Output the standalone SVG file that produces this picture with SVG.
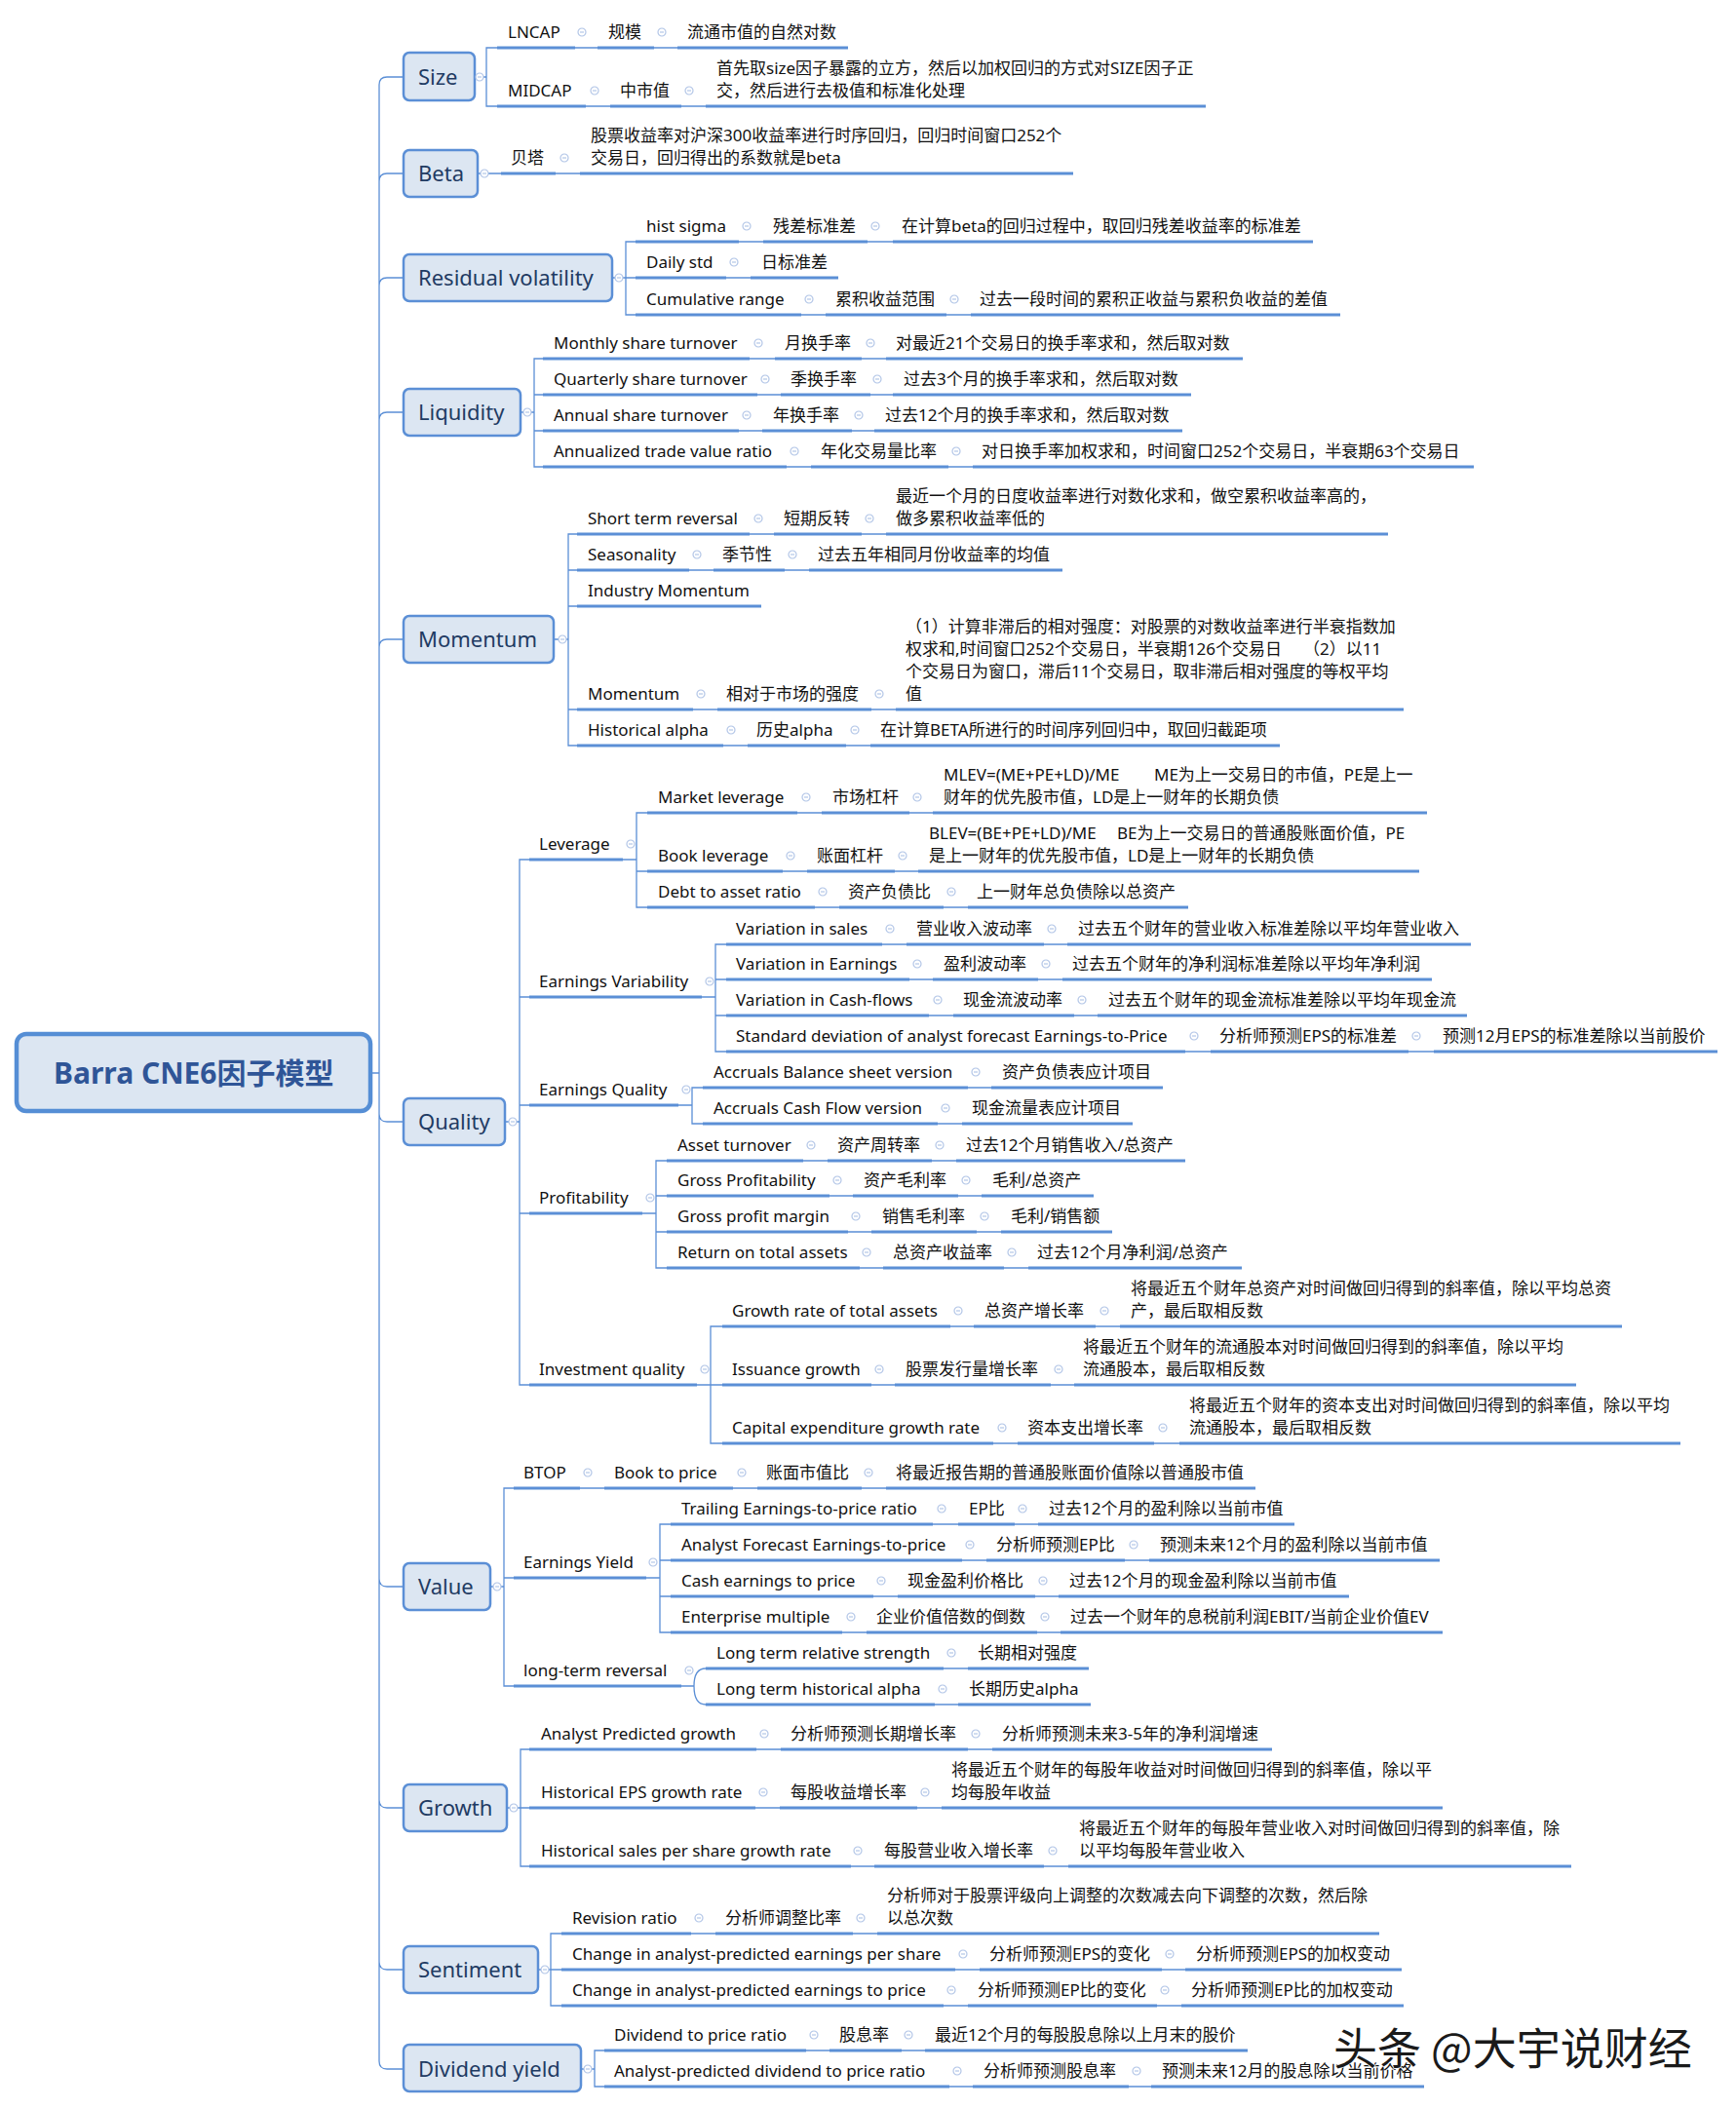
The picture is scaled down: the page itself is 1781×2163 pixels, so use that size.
<svg xmlns="http://www.w3.org/2000/svg" xmlns:xlink="http://www.w3.org/1999/xlink" width="1781" height="2163" viewBox="0 0 1781 2163">
<style>
.t{font-family:"Noto Sans","Noto Sans CJK SC",sans-serif;font-size:17px;fill:#111}
.k{font-family:"Noto Sans","Noto Sans CJK SC",sans-serif;font-size:22px;fill:#1f3b63}
.r{font-family:"Noto Sans","Noto Sans CJK SC",sans-serif;font-size:30px;font-weight:bold;fill:#2f5597}
.u{stroke:#5b8fd6;stroke-width:3;fill:none}
.c{stroke:#5b8fd6;stroke-width:1.3;fill:none}
.box{fill:#dce6f2;stroke:#5b8fd6;stroke-width:2.5}
.w{font-family:"Noto Sans CJK SC",sans-serif;font-size:45px;fill:#1a1a1a;stroke:#ffffff;stroke-width:1.5;paint-order:stroke}
</style>
<defs>
<g id="col"><circle r="4" fill="#ffffff" stroke="#b3c6e7" stroke-width="1.2"/><path d="M-2 0H2" stroke="#b3c6e7" stroke-width="1.2"/></g>
</defs>
<rect width="1781" height="2163" fill="#ffffff"/>
<g id="connectors">
<path class="c" d="M414 79H397Q389 79 389 87V2115Q389 2123 397 2123H414 M380 1101H389 M389 186Q389 178 397 178H414 M389 293Q389 285 397 285H414 M389 431Q389 423 397 423H414 M389 664Q389 656 397 656H414 M389 1143Q389 1151 397 1151H414 M389 1620Q389 1628 397 1628H414 M389 1847Q389 1855 397 1855H414 M389 2013Q389 2021 397 2021H414"/>
<path class="c" d="M487 79H499 M510 49H499V109H510 M590 49H613 M671 49H695 M601 109H626 M699 109H724"/>
<path class="c" d="M490 178H514 M570 178H595"/>
<path class="c" d="M628 285H642 M652 248H642V323H652 M642 285H652 M758 248H783 M890 248H916 M745 285H770 M822 323H847 M971 323H996"/>
<path class="c" d="M534 423H548 M557 368H548V479H557 M548 405H557 M548 442H557 M769 368H795 M884 368H909 M777 405H801 M893 405H916 M758 442H782 M874 442H897 M807 479H832 M973 479H998"/>
<path class="c" d="M568 656H583 M592 548H583V765H592 M583 585H592 M583 622H592 M583 728H592 M769 548H794 M884 548H909 M707 585H732 M805 585H830 M711 728H736 M894 728H919 M742 765H767 M868 765H893"/>
<path class="c" d="M518 1151H533 M543 882H533V1421H543 M533 1023H543 M533 1134H543 M533 1245H543"/>
<path class="c" d="M639 882H653 M664 834H653V931H664 M653 894H664 M818 834H843 M933 834H957 M803 894H828 M918 894H942 M836 931H861 M968 931H993"/>
<path class="c" d="M720 1023H734 M745 969H734V1079H745 M734 1005H745 M734 1042H745 M905 969H930 M1071 969H1095 M933 1005H957 M1065 1005H1090 M953 1042H978 M1102 1042H1126 M1216 1079H1242 M1445 1079H1471"/>
<path class="c" d="M696 1134H710 M721 1116H710V1153H721 M993 1116H1017 M962 1153H987"/>
<path class="c" d="M659 1245H673 M684 1191H673V1301H684 M673 1227H684 M673 1264H684 M824 1191H849 M956 1191H981 M851 1227H875 M983 1227H1007 M870 1264H894 M1002 1264H1027 M882 1301H906 M1030 1301H1055"/>
<path class="c" d="M715 1421H729 M741 1361H729V1481H741 M729 1421H741 M975 1361H999 M1124 1361H1149 M894 1421H918 M1078 1421H1102 M1019 1481H1044 M1184 1481H1210"/>
<path class="c" d="M503 1628H517 M527 1527H517V1730H527 M517 1619H527 M595 1527H620 M752 1527H777 M884 1527H909"/>
<path class="c" d="M663 1619H677 M688 1564H677V1675H688 M677 1601H688 M677 1638H688 M957 1564H983 M1041 1564H1065 M987 1601H1012 M1154 1601H1179 M896 1638H921 M1062 1638H1086 M864 1675H889 M1064 1675H1088"/>
<path class="c" d="M699 1730H712 M724 1712C715 1712 712 1720 712 1730C712 1740 715 1749 724 1749 M968 1712H993 M959 1749H983"/>
<path class="c" d="M520 1855H534 M543 1795H534V1915H543 M534 1855H543 M776 1795H801 M993 1795H1018 M775 1855H800 M941 1855H966 M873 1915H897 M1071 1915H1096"/>
<path class="c" d="M552 2021H565 M576 1984H565V2058H576 M565 2021H576 M709 1984H734 M875 1984H900 M980 2021H1005 M1192 2021H1216 M968 2058H993 M1187 2058H1212"/>
<path class="c" d="M596 2123H610 M620 2104H610V2141H620 M827 2104H851 M925 2104H949 M974 2141H998 M1158 2141H1181"/>
</g>
<g id="root"><rect x="17" y="1061" width="363" height="79" rx="10" fill="#dce6f2" stroke="#558ed5" stroke-width="4.5"/><text class="r" x="55" y="1112">Barra CNE6因子模型</text></g>
<g id="cat-size"><rect class="box" x="414" y="54" width="73" height="49" rx="6"/><text class="k" x="429" y="87">Size</text><use href="#col" x="492" y="79"/></g>
<g id="cat-beta"><rect class="box" x="414" y="154" width="76" height="48" rx="6"/><text class="k" x="429" y="186">Beta</text><use href="#col" x="497" y="178"/></g>
<g id="cat-resvol"><rect class="box" x="414" y="261" width="214" height="48" rx="6"/><text class="k" x="429" y="293">Residual volatility</text><use href="#col" x="635" y="285"/></g>
<g id="cat-liquidity"><rect class="box" x="414" y="399" width="120" height="48" rx="6"/><text class="k" x="429" y="431">Liquidity</text><use href="#col" x="541" y="423"/></g>
<g id="cat-momentum"><rect class="box" x="414" y="632" width="154" height="48" rx="6"/><text class="k" x="429" y="664">Momentum</text><use href="#col" x="577" y="656"/></g>
<g id="cat-quality"><rect class="box" x="414" y="1127" width="104" height="48" rx="6"/><text class="k" x="429" y="1159">Quality</text><use href="#col" x="526" y="1151"/></g>
<g id="cat-value"><rect class="box" x="414" y="1604" width="89" height="48" rx="6"/><text class="k" x="429" y="1636">Value</text><use href="#col" x="510" y="1628"/></g>
<g id="cat-growth"><rect class="box" x="414" y="1831" width="106" height="48" rx="6"/><text class="k" x="429" y="1863">Growth</text><use href="#col" x="527" y="1855"/></g>
<g id="cat-sentiment"><rect class="box" x="414" y="1997" width="138" height="48" rx="6"/><text class="k" x="429" y="2029">Sentiment</text><use href="#col" x="559" y="2021"/></g>
<g id="cat-dividend"><rect class="box" x="414" y="2098" width="182" height="48" rx="6"/><text class="k" x="429" y="2131">Dividend yield</text><use href="#col" x="603" y="2123"/></g>

<g id="n-lncap"><path class="u" d="M510 49H590"/><text class="t" x="521" y="39">LNCAP</text><use href="#col" x="597" y="33"/></g>
<g id="n-lncap-cn"><path class="u" d="M613 49H671"/><text class="t" x="624" y="39">规模</text><use href="#col" x="679" y="33"/></g>
<g id="n-lncap-d"><path class="u" d="M695 49H870"/><text class="t" x="705" y="39">流通市值的自然对数</text></g>
<g id="n-midcap"><path class="u" d="M510 109H601"/><text class="t" x="521" y="99">MIDCAP</text><use href="#col" x="610" y="93"/></g>
<g id="n-midcap-cn"><path class="u" d="M626 109H699"/><text class="t" x="636" y="99">中市值</text><use href="#col" x="707" y="93"/></g>
<g id="n-midcap-d"><path class="u" d="M724 109H1237"/><text class="t" x="735" y="76">首先取size因子暴露的立方，然后以加权回归的方式对SIZE因子正</text><text class="t" x="735" y="99">交，然后进行去极值和标准化处理</text></g>

<g id="n-beta-cn"><path class="u" d="M514 178H570"/><text class="t" x="524" y="168">贝塔</text><use href="#col" x="579" y="162"/></g>
<g id="n-beta-d"><path class="u" d="M595 178H1101"/><text class="t" x="606" y="145">股票收益率对沪深300收益率进行时序回归，回归时间窗口252个</text><text class="t" x="606" y="168">交易日，回归得出的系数就是beta</text></g>

<g id="n-histsigma"><path class="u" d="M652 248H758"/><text class="t" x="663" y="238">hist sigma</text><use href="#col" x="766" y="232"/></g>
<g id="n-histsigma-cn"><path class="u" d="M783 248H890"/><text class="t" x="793" y="238">残差标准差</text><use href="#col" x="898" y="232"/></g>
<g id="n-histsigma-d"><path class="u" d="M916 248H1347"/><text class="t" x="925" y="238">在计算beta的回归过程中，取回归残差收益率的标准差</text></g>
<g id="n-dailystd"><path class="u" d="M652 285H745"/><text class="t" x="663" y="275">Daily std</text><use href="#col" x="753" y="269"/></g>
<g id="n-dailystd-cn"><path class="u" d="M770 285H860"/><text class="t" x="781" y="275">日标准差</text></g>
<g id="n-cumrange"><path class="u" d="M652 323H822"/><text class="t" x="663" y="313">Cumulative range</text><use href="#col" x="830" y="307"/></g>
<g id="n-cumrange-cn"><path class="u" d="M847 323H971"/><text class="t" x="857" y="313">累积收益范围</text><use href="#col" x="979" y="307"/></g>
<g id="n-cumrange-d"><path class="u" d="M996 323H1375"/><text class="t" x="1005" y="313">过去一段时间的累积正收益与累积负收益的差值</text></g>

<g id="n-monthly"><path class="u" d="M557 368H769"/><text class="t" x="568" y="358">Monthly share turnover</text><use href="#col" x="778" y="352"/></g>
<g id="n-monthly-cn"><path class="u" d="M795 368H884"/><text class="t" x="805" y="358">月换手率</text><use href="#col" x="893" y="352"/></g>
<g id="n-monthly-d"><path class="u" d="M909 368H1275"/><text class="t" x="919" y="358">对最近21个交易日的换手率求和，然后取对数</text></g>
<g id="n-quarterly"><path class="u" d="M557 405H777"/><text class="t" x="568" y="395">Quarterly share turnover</text><use href="#col" x="785" y="389"/></g>
<g id="n-quarterly-cn"><path class="u" d="M801 405H893"/><text class="t" x="811" y="395">季换手率</text><use href="#col" x="900" y="389"/></g>
<g id="n-quarterly-d"><path class="u" d="M916 405H1222"/><text class="t" x="927" y="395">过去3个月的换手率求和，然后取对数</text></g>
<g id="n-annual"><path class="u" d="M557 442H758"/><text class="t" x="568" y="432">Annual share turnover</text><use href="#col" x="766" y="426"/></g>
<g id="n-annual-cn"><path class="u" d="M782 442H874"/><text class="t" x="793" y="432">年换手率</text><use href="#col" x="881" y="426"/></g>
<g id="n-annual-d"><path class="u" d="M897 442H1213"/><text class="t" x="908" y="432">过去12个月的换手率求和，然后取对数</text></g>
<g id="n-atvr"><path class="u" d="M557 479H807"/><text class="t" x="568" y="469">Annualized trade value ratio</text><use href="#col" x="815" y="463"/></g>
<g id="n-atvr-cn"><path class="u" d="M832 479H973"/><text class="t" x="842" y="469">年化交易量比率</text><use href="#col" x="981" y="463"/></g>
<g id="n-atvr-d"><path class="u" d="M998 479H1512"/><text class="t" x="1007" y="469">对日换手率加权求和，时间窗口252个交易日，半衰期63个交易日</text></g>

<g id="n-str"><path class="u" d="M592 548H769"/><text class="t" x="603" y="538">Short term reversal</text><use href="#col" x="778" y="532"/></g>
<g id="n-str-cn"><path class="u" d="M794 548H884"/><text class="t" x="804" y="538">短期反转</text><use href="#col" x="892" y="532"/></g>
<g id="n-str-d"><path class="u" d="M909 548H1424"/><text class="t" x="919" y="515">最近一个月的日度收益率进行对数化求和，做空累积收益率高的，</text><text class="t" x="919" y="538">做多累积收益率低的</text></g>
<g id="n-season"><path class="u" d="M592 585H707"/><text class="t" x="603" y="575">Seasonality</text><use href="#col" x="715" y="569"/></g>
<g id="n-season-cn"><path class="u" d="M732 585H805"/><text class="t" x="741" y="575">季节性</text><use href="#col" x="813" y="569"/></g>
<g id="n-season-d"><path class="u" d="M830 585H1090"/><text class="t" x="839" y="575">过去五年相同月份收益率的均值</text></g>
<g id="n-indmom"><path class="u" d="M592 622H781"/><text class="t" x="603" y="612">Industry Momentum</text></g>
<g id="n-mom"><path class="u" d="M592 728H711"/><text class="t" x="603" y="718">Momentum</text><use href="#col" x="719" y="712"/></g>
<g id="n-mom-cn"><path class="u" d="M736 728H894"/><text class="t" x="745" y="718">相对于市场的强度</text><use href="#col" x="902" y="712"/></g>
<g id="n-mom-d"><path class="u" d="M919 728H1440"/><text class="t" x="929" y="649">（1）计算非滞后的相对强度：对股票的对数收益率进行半衰指数加</text><text class="t" x="929" y="672">权求和,时间窗口252个交易日，半衰期126个交易日<tspan x="1337">（2）以11</tspan></text><text class="t" x="929" y="695">个交易日为窗口，滞后11个交易日，取非滞后相对强度的等权平均</text><text class="t" x="929" y="718">值</text></g>
<g id="n-histalpha"><path class="u" d="M592 765H742"/><text class="t" x="603" y="755">Historical alpha</text><use href="#col" x="750" y="749"/></g>
<g id="n-histalpha-cn"><path class="u" d="M767 765H868"/><text class="t" x="776" y="755">历史alpha</text><use href="#col" x="877" y="749"/></g>
<g id="n-histalpha-d"><path class="u" d="M893 765H1313"/><text class="t" x="903" y="755">在计算BETA所进行的时间序列回归中，取回归截距项</text></g>

<g id="n-leverage"><path class="u" d="M543 882H639"/><text class="t" x="553" y="872">Leverage</text><use href="#col" x="647" y="866"/></g>
<g id="n-mlev"><path class="u" d="M664 834H818"/><text class="t" x="675" y="824">Market leverage</text><use href="#col" x="827" y="818"/></g>
<g id="n-mlev-cn"><path class="u" d="M843 834H933"/><text class="t" x="854" y="824">市场杠杆</text><use href="#col" x="941" y="818"/></g>
<g id="n-mlev-d"><path class="u" d="M957 834H1464"/><text class="t" x="968" y="801">MLEV=(ME+PE+LD)/ME<tspan x="1184">ME为上一交易日的市值，PE是上一</tspan></text><text class="t" x="968" y="824">财年的优先股市值，LD是上一财年的长期负债</text></g>
<g id="n-blev"><path class="u" d="M664 894H803"/><text class="t" x="675" y="884">Book leverage</text><use href="#col" x="811" y="878"/></g>
<g id="n-blev-cn"><path class="u" d="M828 894H918"/><text class="t" x="838" y="884">账面杠杆</text><use href="#col" x="926" y="878"/></g>
<g id="n-blev-d"><path class="u" d="M942 894H1456"/><text class="t" x="953" y="861">BLEV=(BE+PE+LD)/ME<tspan x="1146">BE为上一交易日的普通股账面价值，PE</tspan></text><text class="t" x="953" y="884">是上一财年的优先股市值，LD是上一财年的长期负债</text></g>
<g id="n-dtoa"><path class="u" d="M664 931H836"/><text class="t" x="675" y="921">Debt to asset ratio</text><use href="#col" x="844" y="915"/></g>
<g id="n-dtoa-cn"><path class="u" d="M861 931H968"/><text class="t" x="870" y="921">资产负债比</text><use href="#col" x="976" y="915"/></g>
<g id="n-dtoa-d"><path class="u" d="M993 931H1219"/><text class="t" x="1002" y="921">上一财年总负债除以总资产</text></g>

<g id="n-ev"><path class="u" d="M543 1023H720"/><text class="t" x="553" y="1013">Earnings Variability</text><use href="#col" x="728" y="1007"/></g>
<g id="n-vsales"><path class="u" d="M745 969H905"/><text class="t" x="755" y="959">Variation in sales</text><use href="#col" x="913" y="953"/></g>
<g id="n-vsales-cn"><path class="u" d="M930 969H1071"/><text class="t" x="940" y="959">营业收入波动率</text><use href="#col" x="1079" y="953"/></g>
<g id="n-vsales-d"><path class="u" d="M1095 969H1509"/><text class="t" x="1106" y="959">过去五个财年的营业收入标准差除以平均年营业收入</text></g>
<g id="n-vearn"><path class="u" d="M745 1005H933"/><text class="t" x="755" y="995">Variation in Earnings</text><use href="#col" x="941" y="989"/></g>
<g id="n-vearn-cn"><path class="u" d="M957 1005H1065"/><text class="t" x="968" y="995">盈利波动率</text><use href="#col" x="1073" y="989"/></g>
<g id="n-vearn-d"><path class="u" d="M1090 1005H1469"/><text class="t" x="1100" y="995">过去五个财年的净利润标准差除以平均年净利润</text></g>
<g id="n-vcash"><path class="u" d="M745 1042H953"/><text class="t" x="755" y="1032">Variation in Cash-flows</text><use href="#col" x="962" y="1026"/></g>
<g id="n-vcash-cn"><path class="u" d="M978 1042H1102"/><text class="t" x="988" y="1032">现金流波动率</text><use href="#col" x="1110" y="1026"/></g>
<g id="n-vcash-d"><path class="u" d="M1126 1042H1505"/><text class="t" x="1137" y="1032">过去五个财年的现金流标准差除以平均年现金流</text></g>
<g id="n-sdaf"><path class="u" d="M745 1079H1216"/><text class="t" x="755" y="1069">Standard deviation of analyst forecast Earnings-to-Price</text><use href="#col" x="1225" y="1063"/></g>
<g id="n-sdaf-cn"><path class="u" d="M1242 1079H1445"/><text class="t" x="1251" y="1069">分析师预测EPS的标准差</text><use href="#col" x="1453" y="1063"/></g>
<g id="n-sdaf-d"><path class="u" d="M1471 1079H1762"/><text class="t" x="1480" y="1069">预测12月EPS的标准差除以当前股价</text></g>

<g id="n-eq"><path class="u" d="M543 1134H696"/><text class="t" x="553" y="1124">Earnings Quality</text><use href="#col" x="704" y="1118"/></g>
<g id="n-abs"><path class="u" d="M721 1116H993"/><text class="t" x="732" y="1106">Accruals Balance sheet version</text><use href="#col" x="1001" y="1100"/></g>
<g id="n-abs-cn"><path class="u" d="M1017 1116H1193"/><text class="t" x="1028" y="1106">资产负债表应计项目</text></g>
<g id="n-acf"><path class="u" d="M721 1153H962"/><text class="t" x="732" y="1143">Accruals Cash Flow version</text><use href="#col" x="970" y="1137"/></g>
<g id="n-acf-cn"><path class="u" d="M987 1153H1162"/><text class="t" x="997" y="1143">现金流量表应计项目</text></g>

<g id="n-prof"><path class="u" d="M543 1245H659"/><text class="t" x="553" y="1235">Profitability</text><use href="#col" x="667" y="1229"/></g>
<g id="n-at"><path class="u" d="M684 1191H824"/><text class="t" x="695" y="1181">Asset turnover</text><use href="#col" x="832" y="1175"/></g>
<g id="n-at-cn"><path class="u" d="M849 1191H956"/><text class="t" x="859" y="1181">资产周转率</text><use href="#col" x="964" y="1175"/></g>
<g id="n-at-d"><path class="u" d="M981 1191H1216"/><text class="t" x="991" y="1181">过去12个月销售收入/总资产</text></g>
<g id="n-gp"><path class="u" d="M684 1227H851"/><text class="t" x="695" y="1217">Gross Profitability</text><use href="#col" x="859" y="1211"/></g>
<g id="n-gp-cn"><path class="u" d="M875 1227H983"/><text class="t" x="886" y="1217">资产毛利率</text><use href="#col" x="991" y="1211"/></g>
<g id="n-gp-d"><path class="u" d="M1007 1227H1122"/><text class="t" x="1018" y="1217">毛利/总资产</text></g>
<g id="n-gpm"><path class="u" d="M684 1264H870"/><text class="t" x="695" y="1254">Gross profit margin</text><use href="#col" x="878" y="1248"/></g>
<g id="n-gpm-cn"><path class="u" d="M894 1264H1002"/><text class="t" x="905" y="1254">销售毛利率</text><use href="#col" x="1010" y="1248"/></g>
<g id="n-gpm-d"><path class="u" d="M1027 1264H1141"/><text class="t" x="1037" y="1254">毛利/销售额</text></g>
<g id="n-roa"><path class="u" d="M684 1301H882"/><text class="t" x="695" y="1291">Return on total assets</text><use href="#col" x="889" y="1285"/></g>
<g id="n-roa-cn"><path class="u" d="M906 1301H1030"/><text class="t" x="916" y="1291">总资产收益率</text><use href="#col" x="1038" y="1285"/></g>
<g id="n-roa-d"><path class="u" d="M1055 1301H1274"/><text class="t" x="1064" y="1291">过去12个月净利润/总资产</text></g>

<g id="n-iq"><path class="u" d="M543 1421H715"/><text class="t" x="553" y="1411">Investment quality</text><use href="#col" x="723" y="1405"/></g>
<g id="n-grta"><path class="u" d="M741 1361H975"/><text class="t" x="751" y="1351">Growth rate of total assets</text><use href="#col" x="983" y="1345"/></g>
<g id="n-grta-cn"><path class="u" d="M999 1361H1124"/><text class="t" x="1010" y="1351">总资产增长率</text><use href="#col" x="1133" y="1345"/></g>
<g id="n-grta-d"><path class="u" d="M1149 1361H1664"/><text class="t" x="1160" y="1328">将最近五个财年总资产对时间做回归得到的斜率值，除以平均总资</text><text class="t" x="1160" y="1351">产，最后取相反数</text></g>
<g id="n-ig"><path class="u" d="M741 1421H894"/><text class="t" x="751" y="1411">Issuance growth</text><use href="#col" x="902" y="1405"/></g>
<g id="n-ig-cn"><path class="u" d="M918 1421H1078"/><text class="t" x="929" y="1411">股票发行量增长率</text><use href="#col" x="1086" y="1405"/></g>
<g id="n-ig-d"><path class="u" d="M1102 1421H1617"/><text class="t" x="1111" y="1388">将最近五个财年的流通股本对时间做回归得到的斜率值，除以平均</text><text class="t" x="1111" y="1411">流通股本，最后取相反数</text></g>
<g id="n-capex"><path class="u" d="M741 1481H1019"/><text class="t" x="751" y="1471">Capital expenditure growth rate</text><use href="#col" x="1028" y="1465"/></g>
<g id="n-capex-cn"><path class="u" d="M1044 1481H1184"/><text class="t" x="1054" y="1471">资本支出增长率</text><use href="#col" x="1193" y="1465"/></g>
<g id="n-capex-d"><path class="u" d="M1210 1481H1724"/><text class="t" x="1220" y="1448">将最近五个财年的资本支出对时间做回归得到的斜率值，除以平均</text><text class="t" x="1220" y="1471">流通股本，最后取相反数</text></g>

<g id="n-btop"><path class="u" d="M527 1527H595"/><text class="t" x="537" y="1517">BTOP</text><use href="#col" x="603" y="1511"/></g>
<g id="n-btp"><path class="u" d="M620 1527H752"/><text class="t" x="630" y="1517">Book to price</text><use href="#col" x="761" y="1511"/></g>
<g id="n-btp-cn"><path class="u" d="M777 1527H884"/><text class="t" x="786" y="1517">账面市值比</text><use href="#col" x="891" y="1511"/></g>
<g id="n-btp-d"><path class="u" d="M909 1527H1288"/><text class="t" x="919" y="1517">将最近报告期的普通股账面价值除以普通股市值</text></g>
<g id="n-ey"><path class="u" d="M527 1619H663"/><text class="t" x="537" y="1609">Earnings Yield</text><use href="#col" x="670" y="1603"/></g>
<g id="n-tep"><path class="u" d="M688 1564H957"/><text class="t" x="699" y="1554">Trailing Earnings-to-price ratio</text><use href="#col" x="966" y="1548"/></g>
<g id="n-tep-cn"><path class="u" d="M983 1564H1041"/><text class="t" x="994" y="1554">EP比</text><use href="#col" x="1049" y="1548"/></g>
<g id="n-tep-d"><path class="u" d="M1065 1564H1328"/><text class="t" x="1076" y="1554">过去12个月的盈利除以当前市值</text></g>
<g id="n-afep"><path class="u" d="M688 1601H987"/><text class="t" x="699" y="1591">Analyst Forecast Earnings-to-price</text><use href="#col" x="995" y="1585"/></g>
<g id="n-afep-cn"><path class="u" d="M1012 1601H1154"/><text class="t" x="1022" y="1591">分析师预测EP比</text><use href="#col" x="1163" y="1585"/></g>
<g id="n-afep-d"><path class="u" d="M1179 1601H1477"/><text class="t" x="1190" y="1591">预测未来12个月的盈利除以当前市值</text></g>
<g id="n-cetp"><path class="u" d="M688 1638H896"/><text class="t" x="699" y="1628">Cash earnings to price</text><use href="#col" x="904" y="1622"/></g>
<g id="n-cetp-cn"><path class="u" d="M921 1638H1062"/><text class="t" x="931" y="1628">现金盈利价格比</text><use href="#col" x="1070" y="1622"/></g>
<g id="n-cetp-d"><path class="u" d="M1086 1638H1384"/><text class="t" x="1097" y="1628">过去12个月的现金盈利除以当前市值</text></g>
<g id="n-em"><path class="u" d="M688 1675H864"/><text class="t" x="699" y="1665">Enterprise multiple</text><use href="#col" x="873" y="1659"/></g>
<g id="n-em-cn"><path class="u" d="M889 1675H1064"/><text class="t" x="899" y="1665">企业价值倍数的倒数</text><use href="#col" x="1072" y="1659"/></g>
<g id="n-em-d"><path class="u" d="M1088 1675H1480"/><text class="t" x="1098" y="1665">过去一个财年的息税前利润EBIT/当前企业价值EV</text></g>
<g id="n-ltr"><path class="u" d="M527 1730H699"/><text class="t" x="537" y="1720">long-term reversal</text><use href="#col" x="707" y="1714"/></g>
<g id="n-ltrs"><path class="u" d="M724 1712H968"/><text class="t" x="735" y="1702">Long term relative strength</text><use href="#col" x="976" y="1696"/></g>
<g id="n-ltrs-cn"><path class="u" d="M993 1712H1117"/><text class="t" x="1003" y="1702">长期相对强度</text></g>
<g id="n-ltha"><path class="u" d="M724 1749H959"/><text class="t" x="735" y="1739">Long term historical alpha</text><use href="#col" x="967" y="1733"/></g>
<g id="n-ltha-cn"><path class="u" d="M983 1749H1119"/><text class="t" x="994" y="1739">长期历史alpha</text></g>

<g id="n-apg"><path class="u" d="M543 1795H776"/><text class="t" x="555" y="1785">Analyst Predicted growth</text><use href="#col" x="784" y="1779"/></g>
<g id="n-apg-cn"><path class="u" d="M801 1795H993"/><text class="t" x="811" y="1785">分析师预测长期增长率</text><use href="#col" x="1001" y="1779"/></g>
<g id="n-apg-d"><path class="u" d="M1018 1795H1305"/><text class="t" x="1028" y="1785">分析师预测未来3-5年的净利润增速</text></g>
<g id="n-heps"><path class="u" d="M543 1855H775"/><text class="t" x="555" y="1845">Historical EPS growth rate</text><use href="#col" x="783" y="1839"/></g>
<g id="n-heps-cn"><path class="u" d="M800 1855H941"/><text class="t" x="811" y="1845">每股收益增长率</text><use href="#col" x="949" y="1839"/></g>
<g id="n-heps-d"><path class="u" d="M966 1855H1480"/><text class="t" x="976" y="1822">将最近五个财年的每股年收益对时间做回归得到的斜率值，除以平</text><text class="t" x="976" y="1845">均每股年收益</text></g>
<g id="n-hsps"><path class="u" d="M543 1915H873"/><text class="t" x="555" y="1905">Historical sales per share growth rate</text><use href="#col" x="880" y="1899"/></g>
<g id="n-hsps-cn"><path class="u" d="M897 1915H1071"/><text class="t" x="907" y="1905">每股营业收入增长率</text><use href="#col" x="1080" y="1899"/></g>
<g id="n-hsps-d"><path class="u" d="M1096 1915H1612"/><text class="t" x="1107" y="1882">将最近五个财年的每股年营业收入对时间做回归得到的斜率值，除</text><text class="t" x="1107" y="1905">以平均每股年营业收入</text></g>

<g id="n-rev"><path class="u" d="M576 1984H709"/><text class="t" x="587" y="1974">Revision ratio</text><use href="#col" x="717" y="1968"/></g>
<g id="n-rev-cn"><path class="u" d="M734 1984H875"/><text class="t" x="744" y="1974">分析师调整比率</text><use href="#col" x="883" y="1968"/></g>
<g id="n-rev-d"><path class="u" d="M900 1984H1415"/><text class="t" x="910" y="1951">分析师对于股票评级向上调整的次数减去向下调整的次数，然后除</text><text class="t" x="910" y="1974">以总次数</text></g>
<g id="n-ceps"><path class="u" d="M576 2021H980"/><text class="t" x="587" y="2011">Change in analyst-predicted earnings per share</text><use href="#col" x="988" y="2005"/></g>
<g id="n-ceps-cn"><path class="u" d="M1005 2021H1192"/><text class="t" x="1015" y="2011">分析师预测EPS的变化</text><use href="#col" x="1200" y="2005"/></g>
<g id="n-ceps-d"><path class="u" d="M1216 2021H1438"/><text class="t" x="1227" y="2011">分析师预测EPS的加权变动</text></g>
<g id="n-cep"><path class="u" d="M576 2058H968"/><text class="t" x="587" y="2048">Change in analyst-predicted earnings to price</text><use href="#col" x="976" y="2042"/></g>
<g id="n-cep-cn"><path class="u" d="M993 2058H1187"/><text class="t" x="1003" y="2048">分析师预测EP比的变化</text><use href="#col" x="1195" y="2042"/></g>
<g id="n-cep-d"><path class="u" d="M1212 2058H1440"/><text class="t" x="1222" y="2048">分析师预测EP比的加权变动</text></g>

<g id="n-dtp"><path class="u" d="M620 2104H827"/><text class="t" x="630" y="2094">Dividend to price ratio</text><use href="#col" x="835" y="2088"/></g>
<g id="n-dtp-cn"><path class="u" d="M851 2104H925"/><text class="t" x="861" y="2094">股息率</text><use href="#col" x="932" y="2088"/></g>
<g id="n-dtp-d"><path class="u" d="M949 2104H1280"/><text class="t" x="959" y="2094">最近12个月的每股股息除以上月末的股价</text></g>
<g id="n-apdp"><path class="u" d="M620 2141H974"/><text class="t" x="630" y="2131">Analyst-predicted dividend to price ratio</text><use href="#col" x="982" y="2125"/></g>
<g id="n-apdp-cn"><path class="u" d="M998 2141H1158"/><text class="t" x="1009" y="2131">分析师预测股息率</text><use href="#col" x="1166" y="2125"/></g>
<g id="n-apdp-d"><path class="u" d="M1181 2141H1461"/><text class="t" x="1192" y="2131">预测未来12月的股息除以当前价格</text></g>

<g id="watermark"><text class="w" x="1368" y="2119">头条 @大宇说财经</text></g>
</svg>
